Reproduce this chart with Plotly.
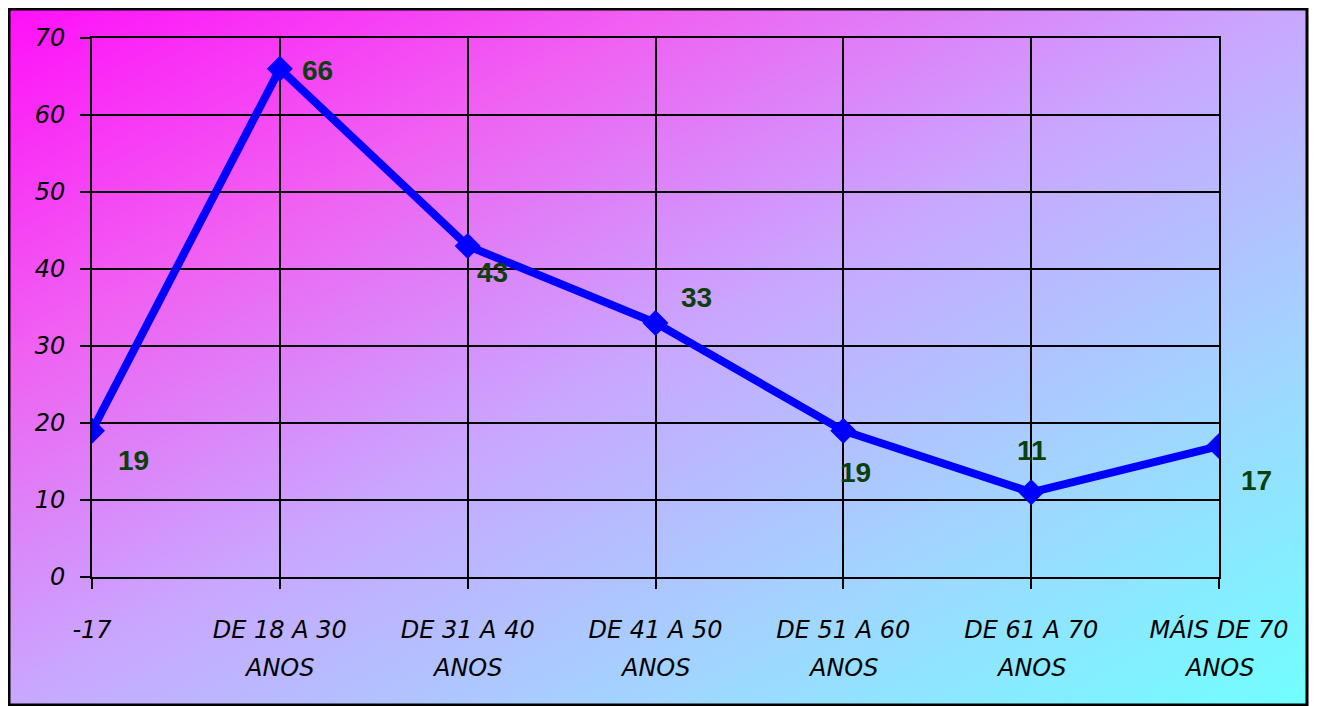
import base64
import plotly.graph_objects as go

# ---- data ----
categories = ["-17", "DE 18 A 30", "DE 31 A 40", "DE 41 A 50", "DE 51 A 60", "DE 61 A 70", "MÁIS DE 70"]
second_line = ["", "ANOS", "ANOS", "ANOS", "ANOS", "ANOS", "ANOS"]
values = [19, 66, 43, 33, 19, 11, 17]
y_ticks = [0, 10, 20, 30, 40, 50, 60, 70]

# ---- layout constants (pixels, page coordinates; body margin = 8) ----
OFF = 8
W, H = 1320 - OFF, 706 - OFF
L, R, T, B = 92 - OFF, 1219 - OFF, 38 - OFF, 577 - OFF
pw, ph = R - L, B - T
bx0, bx1, by0, by1 = 1, 1307 - OFF, 1, 705 - OFF

label_offsets = [(41, -30), (38, -2), (25, -27), (41, 25), (12, -42), (1, 42), (37, -34)]

svg = f'''<svg xmlns="http://www.w3.org/2000/svg" width="{bx1-bx0}" height="{by1-by0}" preserveAspectRatio="none">
<defs><linearGradient id="g" x1="0" y1="0" x2="1" y2="1">
<stop offset="0" stop-color="#FF10F8"/>
<stop offset="0.25" stop-color="#F060F2"/>
<stop offset="0.5" stop-color="#C8A8FF"/>
<stop offset="0.75" stop-color="#A0D6FF"/>
<stop offset="1" stop-color="#70FFFF"/>
</linearGradient></defs>
<rect x="0" y="0" width="{bx1-bx0}" height="{by1-by0}" fill="url(#g)"/>
</svg>'''
src = "data:image/svg+xml;base64," + base64.b64encode(svg.encode()).decode()

def px_x(p):
    return (p - L) / pw

def px_y(p):
    return (B - p) / ph

tick_font = dict(family="Comic Sans MS, DejaVu Sans", size=24, color="black", style="italic")

fig = go.Figure()
fig.add_trace(go.Scatter(
    x=categories, y=values, mode="lines+markers",
    line=dict(color="#0000FF", width=8),
    marker=dict(symbol="diamond", size=20, color="#0000FF"),
    hoverinfo="x+y", showlegend=False,
))

annotations = []
for i, (v, (dx, dy)) in enumerate(zip(values, label_offsets)):
    annotations.append(dict(
        x=i, y=v, xref="x", yref="y", text=str(v), showarrow=False,
        xshift=dx, yshift=dy,
        font=dict(family="Liberation Sans, Arial", size=28, color="#0B3F0B", weight="bold"),
    ))
for i, s in enumerate(second_line):
    if s:
        annotations.append(dict(
            x=i, y=0, xref="x", yref="y", text=s, showarrow=False,
            yshift=-91, font=tick_font,
        ))

fig.update_layout(
    width=W, height=H,
    margin=dict(l=L, r=W - R, t=T, b=H - B, pad=0),
    paper_bgcolor="white",
    plot_bgcolor="rgba(0,0,0,0)",
    images=[dict(
        source=src, xref="paper", yref="paper",
        x=px_x(bx0), y=px_y(by0), sizex=(bx1 - bx0) / pw, sizey=(by1 - by0) / ph,
        xanchor="left", yanchor="top", sizing="stretch", layer="below",
    )],
    shapes=[dict(
        type="rect", xref="paper", yref="paper",
        x0=px_x(bx0), x1=px_x(bx1), y0=px_y(by1), y1=px_y(by0),
        line=dict(color="black", width=3), layer="above",
    )],
    annotations=annotations,
    xaxis=dict(
        type="category", categoryarray=categories, range=[0, len(categories) - 1],
        showgrid=True, gridcolor="black", gridwidth=2,
        showline=True, linecolor="black", linewidth=2, mirror=True,
        ticks="outside", ticklen=10, tickwidth=2, tickcolor="black",
        tickfont=tick_font, ticklabelstandoff=20, zeroline=False,
    ),
    yaxis=dict(
        range=[0, 70], tickvals=y_ticks,
        showgrid=True, gridcolor="black", gridwidth=2,
        showline=True, linecolor="black", linewidth=2, mirror=True,
        ticks="outside", ticklen=10, tickwidth=2, tickcolor="black",
        tickfont=tick_font, ticklabelstandoff=10, zeroline=False,
    ),
)

fig.write_html("out.html")
